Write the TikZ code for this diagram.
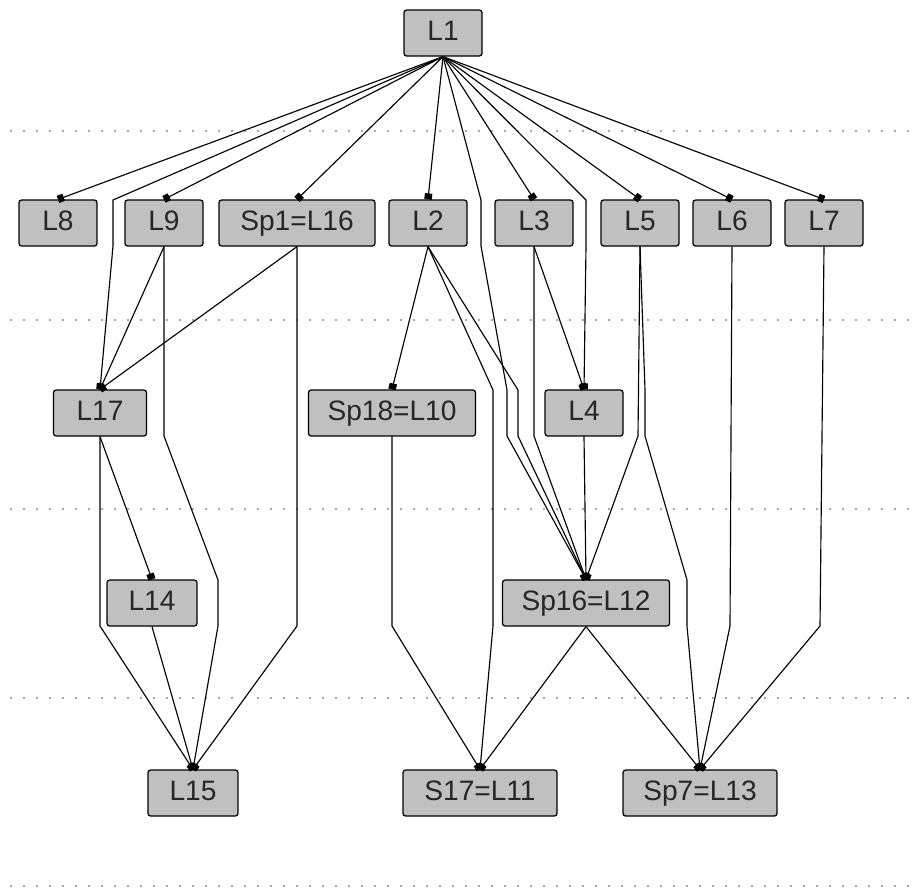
\documentclass[tikz,border=0pt]{standalone}
\usepackage{fontspec}
\setmainfont{Liberation Sans}
\usepackage{xcolor}
\usetikzlibrary{arrows.meta}
\definecolor{boxGray}{RGB}{192,192,192}
\tikzset{
    levelBox/.style={draw=black, fill=boxGray, rounded corners=1.5pt, line width=0.7pt,
        minimum width=#1, minimum height=0.92cm, inner sep=0pt,
        text height=11pt, text depth=3pt, text=black!85,
        font=\fontsize{16}{19}\selectfont},
    levelBox/.default=1.56cm,
    linkEdge/.style={line width=0.65pt, -{Square[length=0.12cm,width=0.15cm]}},
    layerLine/.style={gray!70, line width=0.8pt, dash pattern=on 0.04cm off 0.22cm}
}

\begin{document}
\begin{tikzpicture}[x=0.02cm,y=-0.02cm]
            \useasboundingbox (0,0) rectangle (912,890);
            \foreach \ly in {131,320,509,698,886}
                \draw[layerLine] (10,\ly) -- (910,\ly);

            \node[levelBox] (L1) at (443,33) {L1};

            \node[levelBox] (L8) at (58,223) {L8};
            \node[levelBox] (L9) at (164,223) {L9};
            \node[levelBox=3.12cm] (Sp1L16) at (297,223) {Sp1=L16};
            \node[levelBox] (L2) at (428,223) {L2};
            \node[levelBox] (L3) at (534,223) {L3};
            \node[levelBox] (L5) at (640,223) {L5};
            \node[levelBox] (L6) at (732,223) {L6};
            \node[levelBox] (L7) at (824,223) {L7};

            \node[levelBox=1.86cm] (L17) at (100,413) {L17};
            \node[levelBox=3.34cm] (Sp18L10) at (392,413) {Sp18=L10};
            \node[levelBox] (L4) at (584,413) {L4};

            \node[levelBox=1.8cm] (L14) at (152,603) {L14};
            \node[levelBox=3.34cm] (Sp16L12) at (586,603) {Sp16=L12};

            \node[levelBox=1.8cm] (L15) at (193,793) {L15};
            \node[levelBox=3.08cm] (S17L11) at (480,793) {S17=L11};
            \node[levelBox=3.08cm] (Sp7L13) at (700,793) {Sp7=L13};

            \draw[linkEdge] (L1.south) -- (L8.north);
            \draw[linkEdge] (L1.south) -- (113,200) -- (113,246) -- (L17.north);
            \draw[linkEdge] (L1.south) -- (L9.north);
            \draw[linkEdge] (L1.south) -- (Sp1L16.north);
            \draw[linkEdge] (L1.south) -- (L2.north);
            \draw[linkEdge] (L1.south) -- (481,200) -- (481,246) -- (507,390) -- (507,436) -- (Sp16L12.north);
            \draw[linkEdge] (L1.south) -- (L3.north);
            \draw[linkEdge] (L1.south) -- (586,200) -- (586,246) -- (L4.north);
            \draw[linkEdge] (L1.south) -- (L5.north);
            \draw[linkEdge] (L1.south) -- (L6.north);
            \draw[linkEdge] (L1.south) -- (L7.north);

            \draw[linkEdge] (L9.south) -- (L17.north);
            \draw[linkEdge] (L9.south) -- (164,436) -- (218,580) -- (218,626) -- (L15.north);
            \draw[linkEdge] (Sp1L16.south) -- (L17.north);
            \draw[linkEdge] (Sp1L16.south) -- (297,626) -- (L15.north);
            \draw[linkEdge] (L2.south) -- (Sp18L10.north);
            \draw[linkEdge] (L2.south) -- (518,390) -- (518,436) -- (Sp16L12.north);
            \draw[linkEdge] (L2.south) -- (493,390) -- (493,626) -- (S17L11.north);
            \draw[linkEdge] (L3.south) -- (L4.north);
            \draw[linkEdge] (L3.south) -- (534,436) -- (Sp16L12.north);
            \draw[linkEdge] (L5.south) -- (638,436) -- (Sp16L12.north);
            \draw[linkEdge] (L5.south) -- (645,390) -- (645,436) -- (687,580) -- (687,626) -- (Sp7L13.north);
            \draw[linkEdge] (L6.south) -- (730,626) -- (Sp7L13.north);
            \draw[linkEdge] (L7.south) -- (820,626) -- (Sp7L13.north);

            \draw[linkEdge] (L17.south) -- (L14.north);
            \draw[linkEdge] (L17.south) -- (100,626) -- (L15.north);
            \draw[linkEdge] (Sp18L10.south) -- (392,626) -- (S17L11.north);
            \draw[linkEdge] (L4.south) -- (Sp16L12.north);

            \draw[linkEdge] (L14.south) -- (L15.north);
            \draw[linkEdge] (Sp16L12.south) -- (S17L11.north);
            \draw[linkEdge] (Sp16L12.south) -- (Sp7L13.north);
        \end{tikzpicture}
\end{document}
